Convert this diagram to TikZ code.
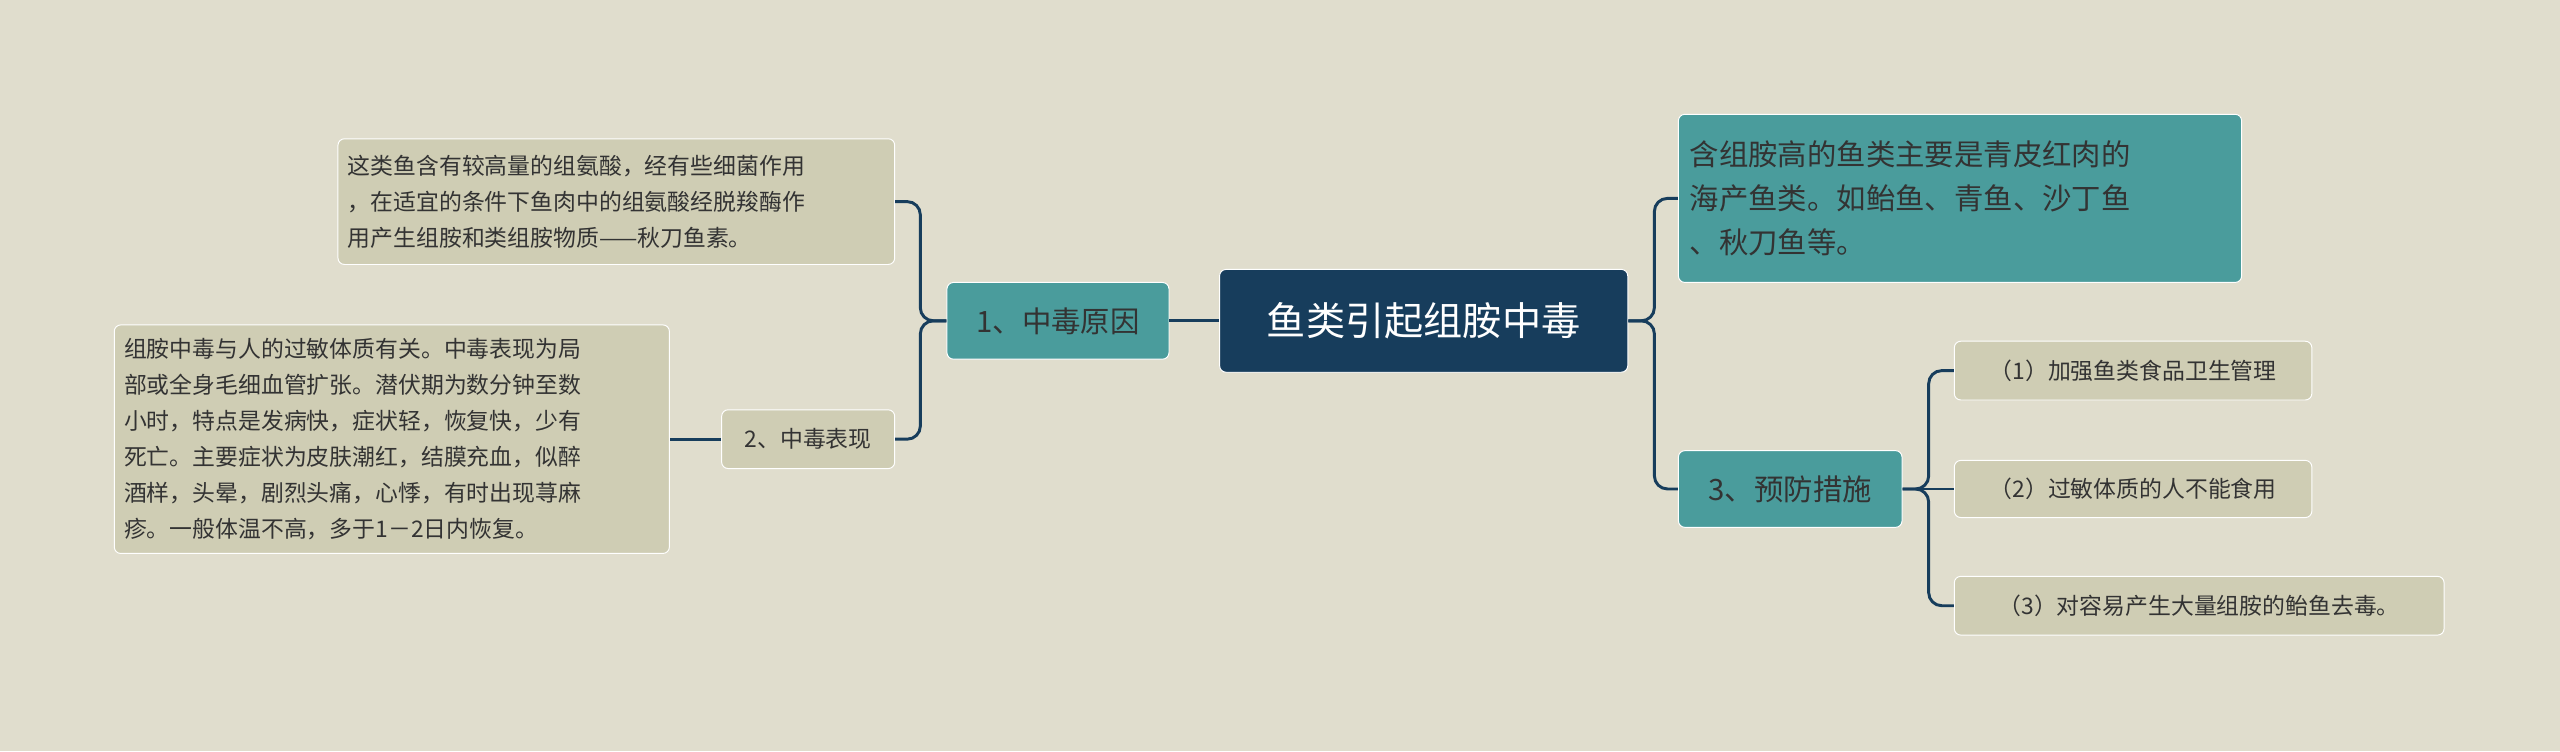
\documentclass[tikz,border=0pt]{standalone}
\usepackage{fontspec}
\setmainfont{Noto Sans CJK SC}
\definecolor{bg}{HTML}{E0DDCD}
\definecolor{navy}{HTML}{173D5C}
\definecolor{teal}{HTML}{4A9C9C}
\definecolor{beige}{HTML}{CFCDB4}
\definecolor{txt}{HTML}{333333}
\begin{document}
\begin{tikzpicture}[x=1pt,y=-1pt,
  box/.style={rounded corners=4pt,draw=white,line width=0.6pt,inner sep=0pt,text=txt},
  tealbox/.style={box,fill=teal,font=\fontsize{18}{27}\selectfont},
  leaf/.style={box,fill=beige,font=\fontsize{14}{22}\selectfont},
  link/.style={draw=navy,line width=1.8pt,rounded corners=8pt}]
\fill[bg] (0,0) rectangle (1568,460);
\useasboundingbox (0,0) rectangle (1568,460);
\node[box,fill=navy,text=white,minimum width=250,minimum height=63,font=\fontsize{24}{28}\selectfont] (c) at (872,196.5) {鱼类引起组胺中毒};
\node[tealbox,minimum width=136,minimum height=47] (n1) at (648,196.5) {1、中毒原因};
\node[leaf,minimum width=341,minimum height=77,text width=329,align=left] (t1) at (377.5,123.5) {这类鱼含有较高量的组氨酸，经有些细菌作用\\，在适宜的条件下鱼肉中的组氨酸经脱羧酶作\\用产生组胺和类组胺物质——秋刀鱼素。};
\node[leaf,minimum width=106,minimum height=36] (n2) at (495,269) {2、中毒表现};
\node[leaf,minimum width=340,minimum height=140,text width=328,align=left] (t2) at (240,269) {组胺中毒与人的过敏体质有关。中毒表现为局\\部或全身毛细血管扩张。潜伏期为数分钟至数\\小时，特点是发病快，症状轻，恢复快，少有\\死亡。主要症状为皮肤潮红，结膜充血，似醉\\酒样，头晕，剧烈头痛，心悸，有时出现荨麻\\疹。一般体温不高，多于1－2日内恢复。};
\node[tealbox,minimum width=345,minimum height=103,text width=331,align=left] (r1) at (1200.5,121.5) {含组胺高的鱼类主要是青皮红肉的\\海产鱼类。如鲐鱼、青鱼、沙丁鱼\\、秋刀鱼等。};
\node[tealbox,minimum width=137,minimum height=47] (n3) at (1096.5,299.5) {3、预防措施};
\node[leaf,minimum width=219,minimum height=36] (i1) at (1306.5,227) {（1）加强鱼类食品卫生管理};
\node[leaf,minimum width=219,minimum height=35] (i2) at (1306.5,299.5) {（2）过敏体质的人不能食用};
\node[leaf,minimum width=300,minimum height=36] (i3) at (1347,371) {（3）对容易产生大量组胺的鲐鱼去毒。};
\draw[link] (c.west) -- (n1.east);
\draw[link] (n1.west) -- ++(-16,0) |- (t1.east);
\draw[link] (n1.west) -- ++(-16,0) |- (n2.east);
\draw[link] (n2.west) -- (t2.east);
\draw[link] (c.east) -- ++(16,0) |- (r1.west);
\draw[link] (c.east) -- ++(16,0) |- (n3.west);
\draw[link] (n3.east) -- ++(16,0) |- (i1.west);
\draw[link] (n3.east) -- (i2.west);
\draw[link] (n3.east) -- ++(16,0) |- (i3.west);
\end{tikzpicture}
\end{document}
